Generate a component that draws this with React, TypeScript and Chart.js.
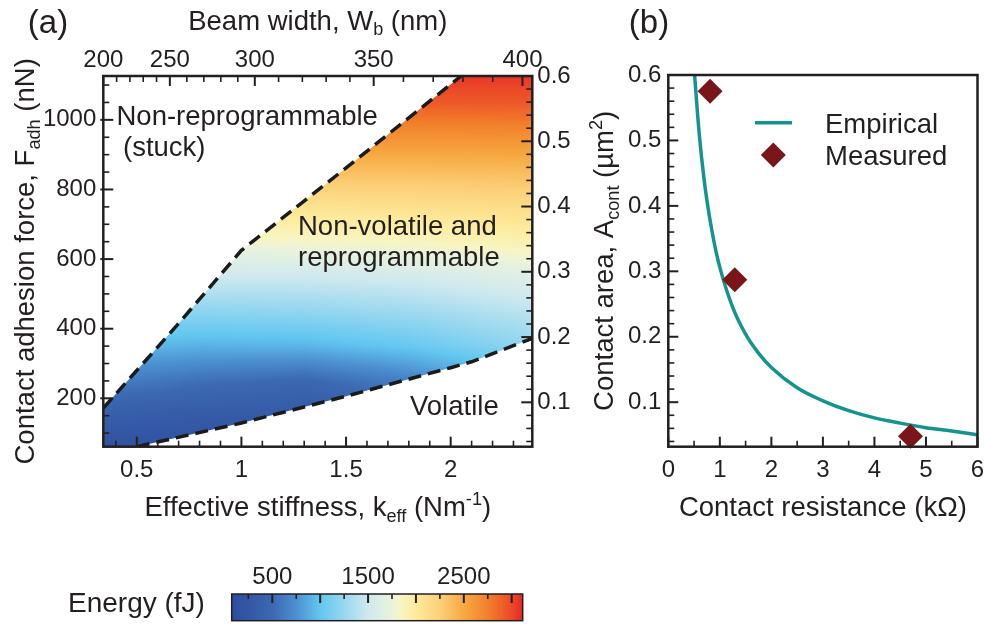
import React, { useEffect, useRef } from 'react';
import { Chart, registerables } from 'chart.js';

Chart.register(...registerables);

const FONT = "'Liberation Sans', Arial, Helvetica, sans-serif";
const INK = '#231f20';
const TICK_SIZE = 24;
const TITLE_SIZE = 27.5;

// ---------------- Panel (a) data ----------------
const stiffnessRange = [0.34, 2.39]; // k_eff (N/m)
const forceRange = [61, 1126]; // F_adh (nN)
const areaRange = [0.032, 0.6]; // A_cont (µm²)
const stiffnessTicks = [0.5, 1, 1.5, 2];
const forceTicks = [200, 400, 600, 800, 1000];
const areaTicks = [0.1, 0.2, 0.3, 0.4, 0.5, 0.6];
const beamWidthTicks = [200, 250, 300, 350, 400];
const beamWidthTickStiffness = [0.34, 0.658, 1.064, 1.632, 2.343];

const upperBoundaryK = [0.34, 0.7, 1.0, 1.5, 2.05];
const upperBoundaryF = [172, 415, 625, 862, 1126];
const lowerBoundaryK = [0.5, 1.0, 1.5, 2.0, 2.1, 2.39];
const lowerBoundaryF = [61, 129, 206, 288, 305, 372];

const energyGridK = [0.3, 0.8, 1.3, 1.8, 2.4];
const energyGridF = [50, 150, 250, 350, 450, 550, 650, 750, 850, 950, 1050, 1150];
const energyGrid = [
  [150, 150, 150, 200, 300],
  [350, 300, 280, 350, 650],
  [650, 550, 480, 650, 950],
  [950, 900, 920, 1020, 1220],
  [1250, 1200, 1220, 1280, 1420],
  [1550, 1500, 1500, 1540, 1650],
  [1820, 1800, 1820, 1850, 1920],
  [2080, 2070, 2080, 2100, 2140],
  [2350, 2350, 2360, 2360, 2380],
  [2650, 2650, 2650, 2640, 2650],
  [2950, 2950, 2950, 2930, 2940],
  [3110, 3110, 3110, 3110, 3110],
];

// colour bar
const energyRange = [76, 3115];
const energyTicks = [500, 1500, 2500];
const colormapEnergy = [76, 500, 750, 1000, 1250, 1500, 1750, 1850, 2000, 2250, 2500, 2750, 3000, 3115];
const colormapColor = ['#2d4c9c', '#3c68b1', '#4c90d1', '#62c7f1', '#98d8ef', '#cfe9ef', '#eaf3dc', '#f8f5c0', '#fdeb9c', '#fcd079', '#f7a941', '#f2802b', '#eb4a27', '#e8262a'];

// ---------------- Panel (b) data ----------------
const resistanceRange = [0, 6];
const resistanceTicks = [0, 1, 2, 3, 4, 5, 6];
const empiricalR = [0.51, 0.6, 0.7, 0.8, 0.9, 1.0, 1.25, 1.5, 1.75, 2.0, 2.5, 3.0, 3.5, 4.0, 4.5, 5.0, 5.5, 6.0];
const empiricalA = [0.6, 0.51, 0.437, 0.383, 0.34, 0.306, 0.245, 0.204, 0.175, 0.153, 0.122, 0.102, 0.087, 0.076, 0.068, 0.061, 0.056, 0.05];
const measuredR = [0.81, 1.29, 4.7];
const measuredA = [0.575, 0.287, 0.048];

// ---------------- helpers ----------------
const hexToRgb = (h: string) => {
  const n = parseInt(h.slice(1), 16);
  return [(n >> 16) & 255, (n >> 8) & 255, n & 255];
};
const cmapRgb = colormapColor.map(hexToRgb);

function energyColor(E: number): number[] {
  const e = colormapEnergy;
  if (E <= e[0]) return cmapRgb[0];
  if (E >= e[e.length - 1]) return cmapRgb[e.length - 1];
  let i = 0;
  while (E > e[i + 1]) i++;
  const t = (E - e[i]) / (e[i + 1] - e[i]);
  const a = cmapRgb[i];
  const b = cmapRgb[i + 1];
  return [a[0] + (b[0] - a[0]) * t, a[1] + (b[1] - a[1]) * t, a[2] + (b[2] - a[2]) * t];
}

function locate(arr: number[], v: number): [number, number] {
  const n = arr.length;
  if (v <= arr[0]) return [0, 0];
  if (v >= arr[n - 1]) return [n - 2, 1];
  let i = 0;
  while (v > arr[i + 1]) i++;
  return [i, (v - arr[i]) / (arr[i + 1] - arr[i])];
}

function energyAt(k: number, F: number) {
  const [i, u] = locate(energyGridF, F);
  const [j, t] = locate(energyGridK, k);
  const r0 = energyGrid[i];
  const r1 = energyGrid[i + 1];
  const e0 = r0[j] + (r0[j + 1] - r0[j]) * t;
  const e1 = r1[j] + (r1[j + 1] - r1[j]) * t;
  return e0 + (e1 - e0) * u;
}

function widthToStiffness(w: number) {
  const [i, t] = locate(beamWidthTicks, w);
  return beamWidthTickStiffness[i] + (beamWidthTickStiffness[i + 1] - beamWidthTickStiffness[i]) * t;
}

function steps(start: number, end: number, step: number, exclude: number[] = []) {
  const out: number[] = [];
  const n = Math.round((end - start) / step);
  for (let i = 0; i <= n; i++) {
    const v = Math.round((start + i * step) * 1e6) / 1e6;
    if (!exclude.some((x) => Math.abs(x - v) < 1e-9)) out.push(v);
  }
  return out;
}

type Seg = [string, number]; // 0 normal, 1 sub, 2 sup
function drawRich(ctx: CanvasRenderingContext2D, segs: Seg[], x: number, y: number, size: number, align: 'center' | 'left', rot = 0) {
  ctx.save();
  ctx.translate(x, y);
  if (rot) ctx.rotate(rot);
  ctx.textBaseline = 'alphabetic';
  ctx.textAlign = 'left';
  ctx.fillStyle = INK;
  const fontFor = (s: number) => `${s === 0 ? size : size * 0.66}px ${FONT}`;
  let total = 0;
  for (const [t, s] of segs) {
    ctx.font = fontFor(s);
    total += ctx.measureText(t).width;
  }
  let cx = align === 'center' ? -total / 2 : 0;
  for (const [t, s] of segs) {
    ctx.font = fontFor(s);
    const dy = s === 1 ? size * 0.2 : s === 2 ? -size * 0.4 : 0;
    ctx.fillText(t, cx, dy);
    cx += ctx.measureText(t).width;
  }
  ctx.restore();
}

type TickSpec = { id: string; major: number[]; minor: number[]; majorLen: number; minorLen: number; out?: number };
function tickPlugin(specs: TickSpec[], boxWidth: number) {
  return {
    id: 'inwardTicks',
    afterDatasetsDraw(chart: any) {
      const ctx = chart.ctx as CanvasRenderingContext2D;
      const a = chart.chartArea;
      ctx.save();
      ctx.strokeStyle = INK;
      for (const s of specs) {
        const sc = chart.scales[s.id];
        const draw = (v: number, len: number, w: number, out: number) => {
          const p = sc.getPixelForValue(v);
          ctx.lineWidth = w;
          ctx.beginPath();
          if (sc.isHorizontal()) {
            const top = sc.position === 'top';
            const y0 = top ? a.top : a.bottom;
            const dir = top ? 1 : -1;
            ctx.moveTo(p, y0 - dir * out);
            ctx.lineTo(p, y0 + dir * len);
          } else {
            const left = sc.position === 'left';
            const x0 = left ? a.left : a.right;
            const dir = left ? 1 : -1;
            ctx.moveTo(x0 - dir * out, p);
            ctx.lineTo(x0 + dir * len, p);
          }
          ctx.stroke();
        };
        s.minor.forEach((v) => draw(v, s.minorLen, 1.6, 0));
        s.major.forEach((v) => draw(v, s.majorLen, 2, s.out || 0));
      }
      ctx.lineWidth = boxWidth;
      ctx.strokeRect(a.left, a.top, a.right - a.left, a.bottom - a.top);
      ctx.restore();
    },
  };
}

const tickFont = { family: FONT, size: TICK_SIZE };
const noGrid = { display: false, drawTicks: false };
const offsetGrid = (len: number) => ({ display: false, drawTicks: true, tickLength: len });
const noBorder = { display: false };

// ---------------- Panel (a) plugins ----------------
const heatPlugin = {
  id: 'energyHeat',
  beforeDatasetsDraw(chart: any) {
    const { ctx, chartArea: a } = chart;
    const xs = chart.scales.x;
    const ys = chart.scales.y;
    const w = Math.round(a.right - a.left);
    const h = Math.round(a.bottom - a.top);
    const off = document.createElement('canvas');
    off.width = w;
    off.height = h;
    const octx = off.getContext('2d')!;
    const img = octx.createImageData(w, h);
    for (let j = 0; j < h; j++) {
      const F = ys.getValueForPixel(a.top + j + 0.5);
      for (let i = 0; i < w; i++) {
        const k = xs.getValueForPixel(a.left + i + 0.5);
        const c = energyColor(energyAt(k, F));
        const idx = (j * w + i) * 4;
        img.data[idx] = c[0];
        img.data[idx + 1] = c[1];
        img.data[idx + 2] = c[2];
        img.data[idx + 3] = 255;
      }
    }
    octx.putImageData(img, 0, 0);
    ctx.save();
    ctx.beginPath();
    const px = (k: number) => xs.getPixelForValue(k);
    const py = (f: number) => ys.getPixelForValue(f);
    upperBoundaryK.forEach((k, i) => {
      if (i === 0) ctx.moveTo(px(k), py(upperBoundaryF[i]));
      else ctx.lineTo(px(k), py(upperBoundaryF[i]));
    });
    ctx.lineTo(px(stiffnessRange[1]), py(forceRange[1]));
    for (let i = lowerBoundaryK.length - 1; i >= 0; i--) ctx.lineTo(px(lowerBoundaryK[i]), py(lowerBoundaryF[i]));
    ctx.lineTo(px(stiffnessRange[0]), py(forceRange[0]));
    ctx.closePath();
    ctx.clip();
    ctx.drawImage(off, a.left, a.top);
    ctx.restore();
  },
};

const textPluginA = {
  id: 'textA',
  afterDraw(chart: any) {
    const ctx = chart.ctx as CanvasRenderingContext2D;
    const a = chart.chartArea;
    const cx = (a.left + a.right) / 2;
    const cy = (a.top + a.bottom) / 2;
    drawRich(ctx, [['Beam width, W', 0], ['b', 1], [' (nm)', 0]], cx, 29.5, TITLE_SIZE, 'center');
    drawRich(ctx, [['Effective stiffness, k', 0], ['eff', 1], [' (Nm', 0], ['-1', 2], [')', 0]], cx, 516, TITLE_SIZE, 'center');
    drawRich(ctx, [['Contact adhesion force, F', 0], ['adh', 1], [' (nN)', 0]], 34, cy, TITLE_SIZE, 'center', -Math.PI / 2);
    drawRich(ctx, [['(a)', 0]], 48, 33, 33, 'center');
    drawRich(ctx, [['Non-reprogrammable', 0]], 116.5, 124.7, TITLE_SIZE, 'left');
    drawRich(ctx, [['(stuck)', 0]], 123, 156, TITLE_SIZE, 'left');
    drawRich(ctx, [['Non-volatile and', 0]], 298, 234.7, TITLE_SIZE, 'left');
    drawRich(ctx, [['reprogrammable', 0]], 298, 266, TITLE_SIZE, 'left');
    drawRich(ctx, [['Volatile', 0]], 410, 414.7, TITLE_SIZE, 'left');
  },
};

// ---------------- Panel (b) plugins ----------------
const legendPluginB = {
  id: 'legendB',
  afterDraw(chart: any) {
    const ctx = chart.ctx as CanvasRenderingContext2D;
    const ds = chart.data.datasets;
    ctx.save();
    ctx.strokeStyle = ds[1].borderColor;
    ctx.lineWidth = ds[1].borderWidth;
    ctx.beginPath();
    ctx.moveTo(170, 122.7);
    ctx.lineTo(207, 122.7);
    ctx.stroke();
    const r = ds[0].pointRadius;
    ctx.fillStyle = ds[0].backgroundColor;
    ctx.beginPath();
    ctx.moveTo(188.3 - r, 155);
    ctx.lineTo(188.3, 155 - r);
    ctx.lineTo(188.3 + r, 155);
    ctx.lineTo(188.3, 155 + r);
    ctx.closePath();
    ctx.fill();
    ctx.restore();
    drawRich(ctx, [['Empirical', 0]], 240, 133, TITLE_SIZE, 'left');
    drawRich(ctx, [['Measured', 0]], 240, 164.7, TITLE_SIZE, 'left');
    const a = chart.chartArea;
    drawRich(ctx, [['Contact resistance (kΩ)', 0]], (a.left + a.right) / 2, 516, TITLE_SIZE, 'center');
    drawRich(ctx, [['Contact area, A', 0], ['cont', 1], [' (µm', 0], ['2', 2], [')', 0]], 28, (a.top + a.bottom) / 2, TITLE_SIZE, 'center', -Math.PI / 2);
    drawRich(ctx, [['(b)', 0]], 64, 33, 33, 'center');
  },
};

const textPluginC = {
  id: 'textC',
  afterDraw(chart: any) {
    drawRich(chart.ctx, [['Energy (fJ)', 0]], 68, 72, TITLE_SIZE + 0.5, 'left');
  },
};

export default function App() {
  const aRef = useRef<HTMLCanvasElement>(null);
  const bRef = useRef<HTMLCanvasElement>(null);
  const cRef = useRef<HTMLCanvasElement>(null);

  useEffect(() => {
    Chart.defaults.color = INK;
    Chart.defaults.font.family = FONT;

    const chartA = new Chart(aRef.current!, {
      type: 'scatter',
      data: {
        datasets: [
          {
            label: 'Upper boundary',
            data: upperBoundaryK.map((k, i) => ({ x: k, y: upperBoundaryF[i] })),
            showLine: true,
            borderColor: '#1b1b1b',
            borderWidth: 3.5,
            borderDash: [13, 7],
            pointRadius: 0,
            xAxisID: 'x',
            yAxisID: 'y',
          },
          {
            label: 'Lower boundary',
            data: lowerBoundaryK.map((k, i) => ({ x: k, y: lowerBoundaryF[i] })),
            showLine: true,
            borderColor: '#1b1b1b',
            borderWidth: 3.5,
            borderDash: [13, 7],
            pointRadius: 0,
            xAxisID: 'x',
            yAxisID: 'y',
          },
        ],
      },
      options: {
        responsive: false,
        animation: false,
        events: [],
        layout: { padding: 0 },
        plugins: { legend: { display: false }, tooltip: { enabled: false } },
        scales: {
          x: {
            type: 'linear',
            position: 'bottom',
            min: stiffnessRange[0],
            max: stiffnessRange[1],
            afterBuildTicks: (s: any) => { s.ticks = stiffnessTicks.map((v) => ({ value: v })); },
            afterFit: (s: any) => { s.height = 540 - 446.7; },
            ticks: { font: tickFont, padding: 0, autoSkip: false, maxRotation: 0, callback: (v: any) => String(v) },
            grid: offsetGrid(9),
            border: noBorder,
          },
          x2: {
            type: 'linear',
            position: 'top',
            min: stiffnessRange[0],
            max: stiffnessRange[1],
            afterBuildTicks: (s: any) => { s.ticks = beamWidthTickStiffness.map((v) => ({ value: v })); },
            afterFit: (s: any) => { s.height = 76; },
            ticks: { font: tickFont, padding: 0, autoSkip: false, maxRotation: 0, callback: (_v: any, i: number) => String(beamWidthTicks[i]) },
            grid: offsetGrid(1),
            border: noBorder,
          },
          y: {
            type: 'linear',
            position: 'left',
            min: forceRange[0],
            max: forceRange[1],
            afterBuildTicks: (s: any) => { s.ticks = forceTicks.map((v) => ({ value: v })); },
            afterFit: (s: any) => { s.width = 103.3; },
            ticks: { font: tickFont, padding: 7, autoSkip: false, callback: (v: any) => String(v) },
            grid: noGrid,
            border: noBorder,
          },
          y2: {
            type: 'linear',
            position: 'right',
            min: areaRange[0],
            max: areaRange[1],
            afterBuildTicks: (s: any) => { s.ticks = areaTicks.map((v) => ({ value: v })); },
            afterFit: (s: any) => { s.width = 585 - 532.3; },
            ticks: { font: tickFont, padding: 5, autoSkip: false, callback: (v: any) => Number(v).toFixed(1) },
            grid: noGrid,
            border: noBorder,
          },
        },
      } as any,
      plugins: [
        heatPlugin,
        tickPlugin(
          [
            { id: 'x', major: stiffnessTicks, minor: steps(0.4, 2.3, 0.1, stiffnessTicks), majorLen: 10, minorLen: 6 },
            { id: 'x2', major: beamWidthTickStiffness, minor: steps(210, 390, 10, beamWidthTicks).map(widthToStiffness), majorLen: 10, minorLen: 6 },
            { id: 'y', major: forceTicks, minor: steps(100, 1100, 50, forceTicks), majorLen: 10, minorLen: 6, out: 3 },
            { id: 'y2', major: areaTicks, minor: steps(0.04, 0.58, 0.02, areaTicks), majorLen: 11, minorLen: 6 },
          ],
          2.5
        ),
        textPluginA,
      ],
    });

    const chartB = new Chart(bRef.current!, {
      type: 'scatter',
      data: {
        datasets: [
          {
            label: 'Measured',
            data: measuredR.map((r, i) => ({ x: r, y: measuredA[i] })),
            showLine: false,
            pointStyle: 'rectRot',
            pointRadius: 12.5,
            backgroundColor: '#7a1619',
            borderWidth: 0,
            order: 0,
            clip: false,
          },
          {
            label: 'Empirical',
            data: empiricalR.map((r, i) => ({ x: r, y: empiricalA[i] })),
            showLine: true,
            borderColor: '#139490',
            borderWidth: 3.5,
            pointRadius: 0,
            cubicInterpolationMode: 'monotone',
            order: 1,
          },
        ],
      },
      options: {
        responsive: false,
        animation: false,
        events: [],
        layout: { padding: { top: 75, right: 9, left: 0, bottom: 0 } },
        plugins: { legend: { display: false }, tooltip: { enabled: false } },
        scales: {
          x: {
            type: 'linear',
            position: 'bottom',
            min: resistanceRange[0],
            max: resistanceRange[1],
            afterBuildTicks: (s: any) => { s.ticks = resistanceTicks.map((v) => ({ value: v })); },
            afterFit: (s: any) => { s.height = 540 - 446.7; },
            ticks: { font: tickFont, padding: 0, autoSkip: false, maxRotation: 0, callback: (v: any) => String(v) },
            grid: offsetGrid(9),
            border: noBorder,
          },
          y: {
            type: 'linear',
            position: 'left',
            min: areaRange[0],
            max: areaRange[1],
            afterBuildTicks: (s: any) => { s.ticks = areaTicks.map((v) => ({ value: v })); },
            afterFit: (s: any) => { s.width = 668.3 - 585; },
            ticks: { font: tickFont, padding: 7, autoSkip: false, callback: (v: any) => Number(v).toFixed(1) },
            grid: noGrid,
            border: noBorder,
          },
        },
      } as any,
      plugins: [
        tickPlugin(
          [
            { id: 'x', major: resistanceTicks, minor: steps(0.5, 5.5, 1), majorLen: 10, minorLen: 6 },
            { id: 'y', major: areaTicks, minor: steps(0.04, 0.58, 0.02, areaTicks), majorLen: 10, minorLen: 6 },
          ],
          2.5
        ),
        legendPluginB,
      ],
    });

    const chartC = new Chart(cRef.current!, {
      type: 'bar',
      data: {
        labels: ['Energy'],
        datasets: [
          {
            label: 'Energy (fJ)',
            data: [[energyRange[0], energyRange[1]]],
            barPercentage: 1,
            categoryPercentage: 1,
            borderWidth: 0,
            backgroundColor: (c: any) => {
              const ch = c.chart;
              if (!ch.chartArea) return '#888';
              const xs = ch.scales.x;
              const x0 = xs.getPixelForValue(energyRange[0]);
              const x1 = xs.getPixelForValue(energyRange[1]);
              const g = ch.ctx.createLinearGradient(x0, 0, x1, 0);
              colormapEnergy.forEach((e, i) => g.addColorStop((xs.getPixelForValue(e) - x0) / (x1 - x0), colormapColor[i]));
              return g;
            },
          },
        ],
      },
      options: {
        responsive: false,
        animation: false,
        events: [],
        indexAxis: 'y',
        layout: { padding: { left: 231.7, right: 585 - 522.7, top: 0, bottom: 84 - 80.7 } },
        plugins: { legend: { display: false }, tooltip: { enabled: false } },
        scales: {
          x: {
            type: 'linear',
            position: 'top',
            min: energyRange[0],
            max: energyRange[1],
            afterBuildTicks: (s: any) => { s.ticks = energyTicks.map((v) => ({ value: v })); },
            afterFit: (s: any) => { s.height = 54; },
            ticks: { font: tickFont, padding: 0, autoSkip: false, maxRotation: 0, callback: (v: any) => String(v) },
            grid: offsetGrid(2),
            border: noBorder,
          },
          y: { display: false },
        },
      } as any,
      plugins: [
        tickPlugin([{ id: 'x', major: steps(500, 3000, 500), minor: steps(250, 2750, 500), majorLen: 9, minorLen: 5 }], 1.5),
        textPluginC,
      ],
    });

    return () => {
      chartA.destroy();
      chartB.destroy();
      chartC.destroy();
    };
  }, []);

  return (
    <div style={{ position: 'fixed', left: 0, top: 0, width: 990, height: 624, background: '#fff', overflow: 'hidden' }}>
      <canvas ref={aRef} width={585} height={540} style={{ position: 'absolute', left: 0, top: 0 }} />
      <canvas ref={bRef} width={405} height={540} style={{ position: 'absolute', left: 585, top: 0 }} />
      <canvas ref={cRef} width={585} height={84} style={{ position: 'absolute', left: 0, top: 540 }} />
    </div>
  );
}
